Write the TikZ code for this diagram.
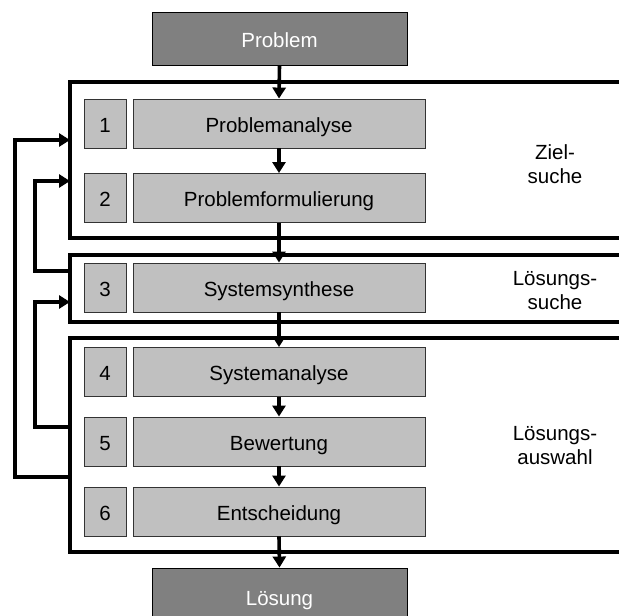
\documentclass[tikz,border=0pt]{standalone}
\usepackage{fontspec}
\setmainfont{Liberation Sans}
\usetikzlibrary{arrows.meta}
\definecolor{darkbox}{HTML}{808080}
\definecolor{lightbox}{HTML}{C0C0C0}
\begin{document}
\begin{tikzpicture}[x=1pt,y=-1pt,
  txt/.style={font=\fontsize{20.5}{24}\selectfont},
  boxtxt/.style={txt,text height=17.5pt,text depth=0pt},
  endbox/.style={boxtxt,draw=black,line width=0.9pt,fill=darkbox,text=white,
    minimum width=255pt,inner sep=0pt},
  numbox/.style={boxtxt,draw=black!80,line width=0.9pt,fill=lightbox,
    minimum width=42pt,minimum height=49pt,inner sep=0pt},
  namebox/.style={boxtxt,draw=black!80,line width=0.9pt,fill=lightbox,
    minimum width=292pt,minimum height=49pt,inner sep=0pt},
  group/.style={line width=3.4pt},
  flow/.style={line width=3.6pt,-{Triangle[width=13pt,length=11pt]}},
  phase/.style={txt,align=center}
]
\useasboundingbox (0,0) rectangle (619,616);
\begin{scope}
\clip (0,0) rectangle (619,616);

% phase groups (open to the right)
\draw[group] (625,82) -- (70,82) -- (70,238) -- (625,238);
\draw[group] (625,255) -- (70,255) -- (70,322) -- (625,322);
\draw[group] (625,338) -- (70,338) -- (70,552) -- (625,552);

% start and end
\node[endbox,minimum height=53pt] (prob) at (279.5,38.5) {Problem};
\node[endbox,minimum height=58pt] (loes) at (279.5,597) {Lösung};

% steps
\node[numbox] (n1) at (105,123.5) {1};
\node[namebox] (s1) at (279,123.5) {Problemanalyse};
\node[numbox] (n2) at (105,198) {2};
\node[namebox] (s2) at (279,198) {Problemformulierung};
\node[numbox] (n3) at (105,287.5) {3};
\node[namebox] (s3) at (279,287.5) {Systemsynthese};
\node[numbox] (n4) at (105,372) {4};
\node[namebox] (s4) at (279,372) {Systemanalyse};
\node[numbox] (n5) at (105,441.5) {5};
\node[namebox] (s5) at (279,441.5) {Bewertung};
\node[numbox] (n6) at (105,511.5) {6};
\node[namebox] (s6) at (279,511.5) {Entscheidung};

% phase labels
\node[phase] (z) at (555,164) {Ziel-\\suche};
\node[phase] (ls) at (555,291) {Lösungs-\\suche};
\node[phase] (la) at (555,446) {Lösungs-\\auswahl};

% main flow
\draw[flow] (prob.south) -- (s1.north);
\draw[flow] (s1.south) -- (s2.north);
\draw[flow] (s2.south) -- (s3.north);
\draw[flow] (s3.south) -- (s4.north);
\draw[flow] (s4.south) -- (s5.north);
\draw[flow] (s5.south) -- (s6.north);
\draw[flow] (s6.south) -- (loes.north);

% feedback loops
\coordinate (g1a) at (70,140);
\coordinate (g1b) at (70,181);
\coordinate (g2in) at (70,302);
\coordinate (g2out) at (70,271);
\coordinate (g3a) at (70,427);
\coordinate (g3b) at (70,477);
\draw[flow] (g3b) -- (15,477) -- (15,140) -- (g1a);
\draw[flow] (g2out) -- (35,271) -- (35,181) -- (g1b);
\draw[flow] (g3a) -- (35,427) -- (35,302) -- (g2in);
\end{scope}
\end{tikzpicture}
\end{document}
